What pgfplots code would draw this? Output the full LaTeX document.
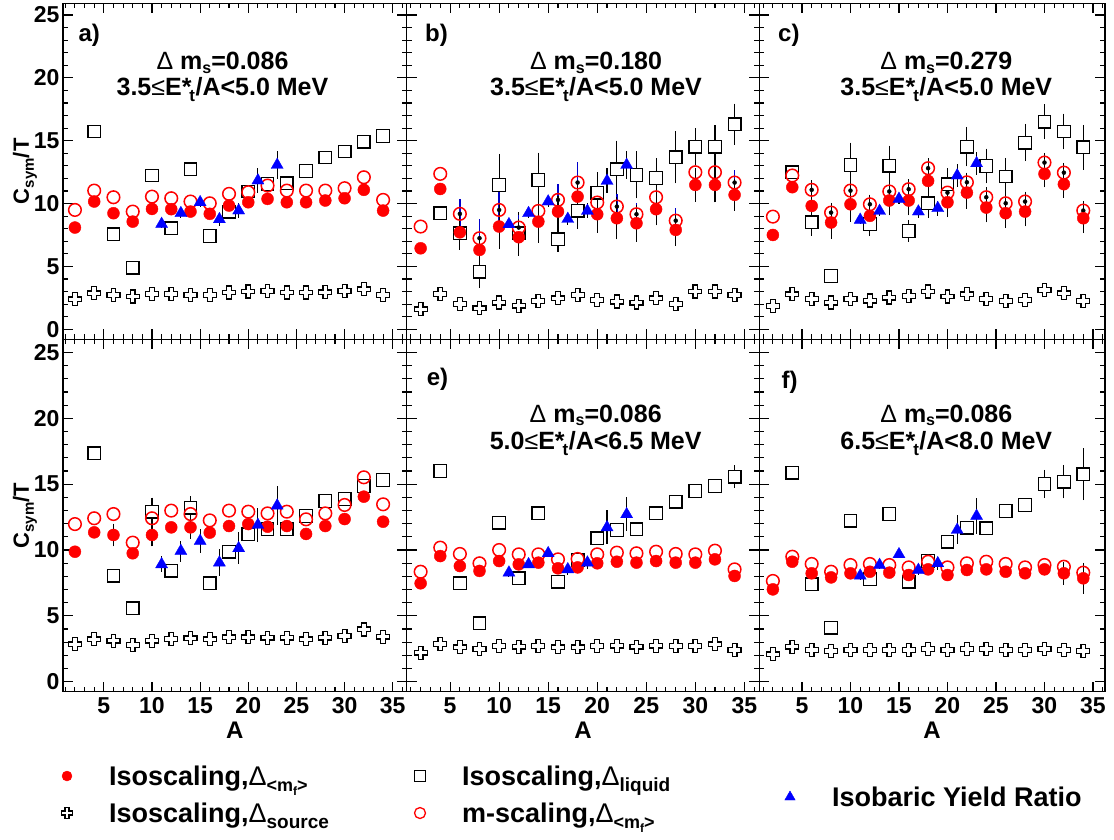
\documentclass[border=0pt]{standalone}
\usepackage{fontspec}
\setmainfont{Liberation Sans}
\usepackage{pgfplots}
\usepackage{pgfplotstable}
\pgfplotsset{compat=1.18}

\newcommand{\tfont}{\fontsize{23}{23}\selectfont\bfseries}
\newcommand{\ttlfont}{\fontsize{25}{25}\selectfont\bfseries}
\newcommand{\legfont}{\fontsize{27}{27}\selectfont\bfseries}
\newcommand{\lblfont}{\fontsize{24}{24}\selectfont\bfseries}
\newcommand{\sbs}[3]{\raisebox{-#1}{\fontsize{#2}{#2}\selectfont #3}}
\newcommand{\dm}[1]{{\mdseries Δ} m\sbs{3.5pt}{16}{s}=#1}
\newcommand{\ex}[2]{#1{\mdseries ≤}E*\kern-2pt\sbs{6pt}{17}{t}\kern0.5pt/A<#2 MeV}

\pgfdeclareplotmark{ocross}{%
  \pgfpathmoveto{\pgfqpoint{-0.36\pgfplotmarksize}{\pgfplotmarksize}}%
  \pgfpathlineto{\pgfqpoint{0.36\pgfplotmarksize}{\pgfplotmarksize}}%
  \pgfpathlineto{\pgfqpoint{0.36\pgfplotmarksize}{0.36\pgfplotmarksize}}%
  \pgfpathlineto{\pgfqpoint{\pgfplotmarksize}{0.36\pgfplotmarksize}}%
  \pgfpathlineto{\pgfqpoint{\pgfplotmarksize}{-0.36\pgfplotmarksize}}%
  \pgfpathlineto{\pgfqpoint{0.36\pgfplotmarksize}{-0.36\pgfplotmarksize}}%
  \pgfpathlineto{\pgfqpoint{0.36\pgfplotmarksize}{-\pgfplotmarksize}}%
  \pgfpathlineto{\pgfqpoint{-0.36\pgfplotmarksize}{-\pgfplotmarksize}}%
  \pgfpathlineto{\pgfqpoint{-0.36\pgfplotmarksize}{-0.36\pgfplotmarksize}}%
  \pgfpathlineto{\pgfqpoint{-\pgfplotmarksize}{-0.36\pgfplotmarksize}}%
  \pgfpathlineto{\pgfqpoint{-\pgfplotmarksize}{0.36\pgfplotmarksize}}%
  \pgfpathlineto{\pgfqpoint{-0.36\pgfplotmarksize}{0.36\pgfplotmarksize}}%
  \pgfpathclose
  \pgfusepathqstroke
}

\pgfplotsset{
  panel/.style={
    scale only axis, anchor=south west,
    axis line style={line width=1.3pt, black},
    every tick/.style={black, line width=1.1pt},
    major tick length=10pt, minor tick length=5pt,
    tick align=inside,
    xtick={5,10,...,35}, minor xtick={1,...,36},
    ytick={0,5,...,25}, minor ytick={0,...,26},
    xtick pos=both, ytick pos=both,
    xticklabel pos=lower, yticklabel pos=left,
    tick label style={font=\tfont},
    xticklabel style={yshift=-2pt},
    /pgf/number format/assume math mode=true,
  },
  toprow/.style={height=336pt, ymin=-0.8, ymax=25.93, xticklabels={}},
  botrow/.style={height=352.4pt, ymin=-0.76, ymax=26.0,
    xticklabels={5,10,15,20,25,30,35},
    xlabel={A}, xlabel style={at={([yshift=-38.3pt]rel axis cs:0.5,0)}, anchor=center, font=\lblfont}},
  leftcol/.style={width=343.7pt, xmin=0.76, xmax=36.45,
    yticklabels={0,5,10,15,20,25},
    ylabel={C\sbs{5pt}{15}{sym}/T},
    ylabel style={at={([xshift=-38pt]rel axis cs:0,0.5)}, anchor=center, font=\fontsize{22}{22}\selectfont\bfseries}},
  midcol/.style={width=352.6pt, xmin=0.58, xmax=36.52, yticklabels={}},
  rightcol/.style={width=345.7pt, xmin=0.60, xmax=36.24, yticklabels={}},
  sfill/.style={only marks, mark=*, mark size=6pt, mark options={fill=red, draw=red, line width=0.4pt}},
  sopen/.style={only marks, mark=o, mark size=6.3pt, mark options={draw=red, line width=1.5pt}},
  ssq/.style={only marks, mark=square*, mark size=6.3pt, mark options={draw=black, fill=white, line width=1.3pt}},
  scr/.style={only marks, mark=ocross, mark size=6.5pt, mark options={draw=black, line width=1.2pt}},
  stri/.style={only marks, mark=triangle*, mark size=7pt, mark options={fill=blue, draw=blue, line width=0.3pt}},
  ebar/.style={only marks, mark=none, error bars/.cd, y dir=both, y explicit,
    error bar style={black, line width=1.1pt}, error mark options={black, mark size=3.5pt, line width=1.1pt}},
  ebarblue/.style={only marks, mark=none, error bars/.cd, y dir=both, y explicit,
    error bar style={blue!80!black, line width=1.4pt}, error mark=none},
  ebartri/.style={only marks, mark=none, error bars/.cd, y dir=both, y explicit,
    error bar style={black, line width=1.1pt}, error mark=none},
  legax/.style={at={(0pt,0pt)}, anchor=south west, scale only axis, width=1114pt, height=839pt,
    xmin=0, xmax=1, ymin=0, ymax=1, hide axis, legend cell align=left,
    legend style={draw=none, fill=none, inner sep=0pt, outer sep=0pt, row sep=8.4pt, column sep=0pt,
      font=\legfont, nodes={inner sep=0pt, outer sep=0pt, text height=24pt, text depth=4.6pt}},
    legend image code/.code={\pgfpathrectangle{\pgfpoint{-8pt}{-8pt}}{\pgfpoint{50pt}{16pt}}\pgfusepath{}%
      \draw[##1] plot coordinates {(0pt,0pt)};}},
}

% columns: A, filled (Isoscaling <mf>), open (m-scaling), square (liquid), cross (source)
\pgfplotstableread{
A f o s c
2 8.09 9.49 nan 2.38
4 10.16 11.03 15.73 2.86
6 9.23 10.50 7.56 2.73
8 8.56 9.36 4.90 2.60
10 9.57 10.55 12.23 2.81
12 9.55 10.42 8.03 2.81
14 9.36 10.16 12.73 2.73
16 9.18 10.02 7.42 2.73
18 9.84 10.77 9.36 2.92
20 10.10 10.90 10.96 3.00
22 10.37 11.43 11.56 3.05
24 10.10 11.03 11.62 2.92
26 10.10 11.03 12.60 2.92
28 10.24 11.03 13.66 2.94
30 10.42 11.22 14.14 3.05
32 11.09 12.09 14.93 3.18
34 9.44 10.29 15.38 2.73
}\tabA
\pgfplotstableread{
A f o s c
2 6.44 8.17 nan 1.59
4 11.16 12.36 9.23 2.81
6 7.71 9.18 7.64 1.99
8 6.31 7.24 4.58 1.67
10 8.17 9.49 11.48 2.12
12 7.32 8.09 7.64 1.88
14 8.56 9.41 11.88 2.25
16 9.36 10.29 7.16 2.46
18 10.55 11.67 9.44 2.73
20 9.15 10.08 10.87 2.33
22 8.83 9.76 12.73 2.20
24 8.43 9.15 12.28 2.12
26 9.55 10.50 12.02 2.46
28 7.90 8.64 13.68 2.01
30 11.48 12.49 14.53 3.00
32 11.48 12.49 14.53 3.00
34 10.69 11.67 16.31 2.73
}\tabB
\pgfplotstableread{
A f o s c
2 7.50 8.96 nan 1.86
4 11.30 12.23 12.49 2.78
6 9.81 11.09 8.51 2.41
8 8.49 9.28 4.24 2.12
10 9.94 11.03 13.07 2.41
12 9.02 9.94 8.38 2.28
14 10.24 10.96 13.02 2.52
16 10.24 11.14 7.82 2.65
18 11.80 12.81 10.02 3.00
20 10.10 10.87 11.54 2.60
22 10.87 11.69 14.53 2.78
24 9.68 10.50 12.99 2.41
26 9.23 10.02 12.15 2.25
28 9.36 10.16 14.85 2.33
30 12.36 13.26 16.52 3.13
32 11.54 12.46 15.73 2.86
34 8.83 9.44 14.48 2.25
}\tabC
\pgfplotstableread{
A f o s c
2 9.87 11.97 nan 2.84
4 11.34 12.41 17.34 3.22
6 11.14 12.73 8.05 3.11
8 9.75 10.56 5.57 2.78
10 11.14 12.41 12.91 3.11
12 11.72 12.99 8.43 3.24
14 11.72 12.73 13.22 3.29
16 11.32 12.25 7.47 3.22
18 11.82 12.99 9.87 3.37
20 11.97 12.91 11.19 3.37
22 11.77 12.78 11.59 3.34
24 11.82 12.91 11.59 3.34
26 11.22 12.33 12.58 3.22
28 11.82 12.78 13.72 3.34
30 12.35 13.42 13.87 3.47
32 14.05 15.52 14.86 3.97
34 12.15 13.47 15.32 3.42
}\tabD
\pgfplotstableread{
A f o s c
2 7.47 8.35 nan 2.20
4 9.54 10.18 16.00 2.86
6 8.78 9.70 7.47 2.61
8 8.41 8.99 4.43 2.48
10 9.16 10.00 12.08 2.71
12 8.91 9.67 7.85 2.66
14 9.04 9.67 12.78 2.71
16 8.61 9.29 7.59 2.61
18 8.68 9.32 9.24 2.61
20 8.99 9.67 10.89 2.71
22 9.11 9.80 11.52 2.73
24 9.04 9.75 11.57 2.66
26 9.16 9.87 12.78 2.73
28 9.04 9.70 13.67 2.71
30 9.04 9.67 14.48 2.71
32 9.29 9.95 14.86 2.84
34 8.03 8.53 15.57 2.41
}\tabE
\pgfplotstableread{
A f o s c
2 7.01 7.65 nan 2.08
4 9.11 9.49 15.87 2.66
6 8.23 8.94 7.39 2.41
8 7.92 8.35 4.10 2.33
10 8.23 8.86 12.23 2.41
12 8.35 8.94 7.77 2.41
14 8.28 8.86 12.73 2.41
16 8.10 8.68 7.59 2.41
18 8.53 9.11 9.16 2.48
20 8.10 8.68 10.63 2.41
22 8.48 8.99 11.70 2.48
24 8.53 9.11 11.65 2.48
26 8.35 8.94 12.96 2.41
28 8.23 8.68 13.42 2.41
30 8.53 8.86 15.01 2.48
32 8.23 8.73 15.19 2.41
34 7.85 8.28 15.75 2.33
}\tabF

% Isobaric yield ratio
\pgfplotstableread{
A y e
11 8.37 0.3
13 9.23 0.4
15 10.10 0.4
17 8.75 0.5
19 9.44 0.6
21 11.83 1.0
23 13.07 1.1
}\triA
\pgfplotstableread{
A y e
11 8.35 0.3
13 9.23 0.4
15 10.16 0.4
17 8.77 0.5
19 9.41 0.6
21 11.80 1.0
23 13.07 1.1
}\triB
\pgfplotstableread{
A y e
11 8.70 0.3
13 9.41 0.4
15 10.37 0.4
17 9.36 0.5
19 9.63 0.6
21 12.23 0.9
23 13.20 0.9
}\triC
\pgfplotstableread{
A y e
11 8.91 0.6
13 9.92 0.8
15 10.68 0.9
17 9.04 1.0
19 10.13 1.2
21 11.90 1.3
23 13.37 1.5
}\triD
\pgfplotstableread{
A y e
11 8.28 0.3
13 8.91 0.3
15 9.75 0.3
17 8.53 0.4
19 9.04 0.5
21 11.72 1.3
23 12.71 1.3
}\triE
\pgfplotstableread{
A y e
11 8.05 0.3
13 8.86 0.3
15 9.67 0.3
17 8.48 0.4
19 8.99 0.5
21 11.52 1.1
23 12.58 1.4
}\triF

% error bars (points that carry them)
\pgfplotstableread{
A y e
6 7.71 1.1
8 6.31 0.8
10 8.17 1.5
12 7.32 1.2
14 8.56 1.4
16 9.36 1.0
18 10.55 0.9
20 9.15 1.2
22 8.83 1.4
24 8.43 1.2
26 9.55 1.0
28 7.90 1.0
30 11.48 1.05
32 11.48 1.1
34 10.69 1.0
}\errBf
\pgfplotstableread{
A y e
6 9.18 1.2
8 7.24 1.5
10 9.49 1.5
12 8.09 1.0
16 10.29 1.3
18 11.67 1.6
22 9.76 1.0
24 9.15 0.9
28 8.64 1.0
34 11.67 1.0
}\errBo
\pgfplotstableread{
A y e
6 7.64 1.0
8 4.58 1.0
10 11.48 2.2
12 7.64 1.4
14 11.88 1.9
16 7.16 0.7
18 9.44 1.2
20 10.87 1.35
22 12.73 2.0
24 12.28 1.6
26 12.02 1.3
28 13.68 1.8
30 14.53 1.2
32 14.53 1.4
34 16.31 1.35
}\errBs
\pgfplotstableread{
A y e
6 9.81 0.9
8 8.49 1.0
10 9.94 1.1
12 9.02 0.9
14 10.24 0.9
16 10.24 0.9
18 11.80 1.2
20 10.10 0.9
22 10.87 1.0
24 9.68 0.9
26 9.23 0.9
28 9.36 0.9
30 12.36 0.8
32 11.54 0.8
34 8.83 0.9
}\errCf
\pgfplotstableread{
A y e
6 11.09 0.5
8 9.28 0.5
10 11.03 0.5
12 9.94 0.5
14 10.96 0.5
16 11.14 0.5
18 12.81 0.5
20 10.87 0.5
22 11.69 0.5
24 10.50 0.5
26 10.02 0.5
28 10.16 0.5
30 13.26 0.5
32 12.46 0.5
34 9.44 0.5
}\errCo
\pgfplotstableread{
A y e
6 8.51 0.8
10 13.07 1.5
12 8.38 0.7
14 13.02 1.3
16 7.82 0.6
18 10.02 0.9
20 11.54 1.0
22 14.53 1.3
24 12.99 1.1
26 12.15 1.2
28 14.85 1.2
30 16.52 1.1
32 15.73 1.15
34 14.48 1.5
}\errCs
\pgfplotstableread{
A y e
6 11.14 0.6
10 11.14 0.6
14 11.72 0.6
}\errDf
\pgfplotstableread{
A y e
10 12.91 0.8
14 13.22 0.6
}\errDs
\pgfplotstableread{
A y e
34 15.57 0.6
}\errEs
\pgfplotstableread{
A y e
32 8.23 0.6
34 7.85 0.9
}\errFf
\pgfplotstableread{
A y e
30 15.01 0.8
32 15.19 1.0
34 15.75 1.7
}\errFs

\begin{document}
\begin{tikzpicture}
\useasboundingbox (0pt,0pt) rectangle (1114pt,839pt);

% ---------------- a
\begin{axis}[panel, toprow, leftcol, at={(63pt,499.7pt)}]
\addplot[ssq] table[x=A,y=s] {\tabA};
\addplot[scr] table[x=A,y=c] {\tabA};
\addplot[sopen] table[x=A,y=o] {\tabA};
\addplot[sfill] table[x=A,y=f] {\tabA};
\addplot[ebartri] table[x=A,y=y,y error=e] {\triA};
\addplot[stri] table[x=A,y=y] {\triA};
\node[anchor=base west, font=\lblfont] at (rel axis cs:0.035,0.886) {a)};
\node[anchor=base, font=\ttlfont] at (rel axis cs:0.464,0.8015) {\dm{0.086}};
\node[anchor=base, font=\ttlfont] at (rel axis cs:0.464,0.727) {\ex{3.5}{5.0}};
\end{axis}

% ---------------- b
\begin{axis}[panel, toprow, midcol, at={(406.7pt,499.7pt)}]
\addplot[ebar] table[x=A,y=y,y error=e] {\errBs};
\addplot[ssq] table[x=A,y=s] {\tabB};
\addplot[scr] table[x=A,y=c] {\tabB};
\addplot[ebarblue] table[x=A,y=y,y error=e] {\errBo};
\addplot[ebar] table[x=A,y=y,y error=e] {\errBf};
\addplot[sopen] table[x=A,y=o] {\tabB};
\addplot[sfill] table[x=A,y=f] {\tabB};
\addplot[ebartri] table[x=A,y=y,y error=e] {\triB};
\addplot[stri] table[x=A,y=y] {\triB};
\node[anchor=base west, font=\lblfont] at (rel axis cs:0.0425,0.886) {b)};
\node[anchor=base, font=\ttlfont] at (rel axis cs:0.537,0.8015) {\dm{0.180}};
\node[anchor=base, font=\ttlfont] at (rel axis cs:0.537,0.727) {\ex{3.5}{5.0}};
\end{axis}

% ---------------- c
\begin{axis}[panel, toprow, rightcol, at={(759.3pt,499.7pt)}]
\addplot[ebar] table[x=A,y=y,y error=e] {\errCs};
\addplot[ssq] table[x=A,y=s] {\tabC};
\addplot[scr] table[x=A,y=c] {\tabC};
\addplot[ebar] table[x=A,y=y,y error=e] {\errCo};
\addplot[ebar] table[x=A,y=y,y error=e] {\errCf};
\addplot[sopen] table[x=A,y=o] {\tabC};
\addplot[sfill] table[x=A,y=f] {\tabC};
\addplot[ebartri] table[x=A,y=y,y error=e] {\triC};
\addplot[stri] table[x=A,y=y] {\triC};
\node[anchor=base west, font=\lblfont] at (rel axis cs:0.0445,0.886) {c)};
\node[anchor=base, font=\ttlfont] at (rel axis cs:0.541,0.8015) {\dm{0.279}};
\node[anchor=base, font=\ttlfont] at (rel axis cs:0.541,0.727) {\ex{3.5}{5.0}};
\end{axis}

% ---------------- d
\begin{axis}[panel, botrow, leftcol, at={(63pt,147.3pt)}]
\addplot[ebar] table[x=A,y=y,y error=e] {\errDs};
\addplot[ssq] table[x=A,y=s] {\tabD};
\addplot[scr] table[x=A,y=c] {\tabD};
\addplot[ebar] table[x=A,y=y,y error=e] {\errDf};
\addplot[sopen] table[x=A,y=o] {\tabD};
\addplot[sfill] table[x=A,y=f] {\tabD};
\addplot[ebartri] table[x=A,y=y,y error=e] {\triD};
\addplot[stri] table[x=A,y=y] {\triD};
\end{axis}

% ---------------- e
\begin{axis}[panel, botrow, midcol, at={(406.7pt,147.3pt)}]
\addplot[ebar] table[x=A,y=y,y error=e] {\errEs};
\addplot[ssq] table[x=A,y=s] {\tabE};
\addplot[scr] table[x=A,y=c] {\tabE};
\addplot[sopen] table[x=A,y=o] {\tabE};
\addplot[sfill] table[x=A,y=f] {\tabE};
\addplot[ebartri] table[x=A,y=y,y error=e] {\triE};
\addplot[stri] table[x=A,y=y] {\triE};
\node[anchor=base west, font=\lblfont] at (rel axis cs:0.047,0.870) {e)};
\node[anchor=base, font=\ttlfont] at (rel axis cs:0.536,0.7645) {\dm{0.086}};
\node[anchor=base, font=\ttlfont] at (rel axis cs:0.536,0.686) {\ex{5.0}{6.5}};
\end{axis}

% ---------------- f
\begin{axis}[panel, botrow, rightcol, at={(759.3pt,147.3pt)}]
\addplot[ebar] table[x=A,y=y,y error=e] {\errFs};
\addplot[ssq] table[x=A,y=s] {\tabF};
\addplot[scr] table[x=A,y=c] {\tabF};
\addplot[ebar] table[x=A,y=y,y error=e] {\errFf};
\addplot[sopen] table[x=A,y=o] {\tabF};
\addplot[sfill] table[x=A,y=f] {\tabF};
\addplot[ebartri] table[x=A,y=y,y error=e] {\triF};
\addplot[stri] table[x=A,y=y] {\triF};
\node[anchor=base west, font=\lblfont] at (rel axis cs:0.054,0.861) {f)};
\node[anchor=base, font=\ttlfont] at (rel axis cs:0.541,0.7645) {\dm{0.086}};
\node[anchor=base, font=\ttlfont] at (rel axis cs:0.541,0.686) {\ex{6.5}{8.0}};
\end{axis}

% ---------------- legends
\begin{axis}[legax, legend style={at={(0.05296,0.0921)}, anchor=north west}]
\addlegendimage{only marks, mark=*, mark size=5pt, mark options={fill=red, draw=red}}
\addlegendentry{Isoscaling,{\mdseries Δ}\sbs{6pt}{18}{<m\sbs{4pt}{12}{f}>}}
\addlegendimage{only marks, mark=ocross, mark size=5.5pt, mark options={draw=black, line width=1.1pt}}
\addlegendentry{Isoscaling,{\mdseries Δ}\sbs{6pt}{19}{source}}
\end{axis}
\begin{axis}[legax, legend style={at={(0.36984,0.0921)}, anchor=north west}]
\addlegendimage{only marks, mark=square, mark size=5.5pt, mark options={draw=black, line width=1.1pt}}
\addlegendentry{Isoscaling,{\mdseries Δ}\sbs{6pt}{19}{liquid}}
\addlegendimage{only marks, mark=o, mark size=5.5pt, mark options={draw=red, line width=1.3pt}}
\addlegendentry{m-scaling,{\mdseries Δ}\sbs{6pt}{18}{<m\sbs{4pt}{12}{f}>}}
\end{axis}
\begin{axis}[legax, legend style={at={(0.70197,0.0671)}, anchor=north west}]
\addlegendimage{only marks, mark=triangle*, mark size=6pt, mark options={fill=blue, draw=blue}}
\addlegendentry{Isobaric Yield Ratio}
\end{axis}
\end{tikzpicture}
\end{document}
